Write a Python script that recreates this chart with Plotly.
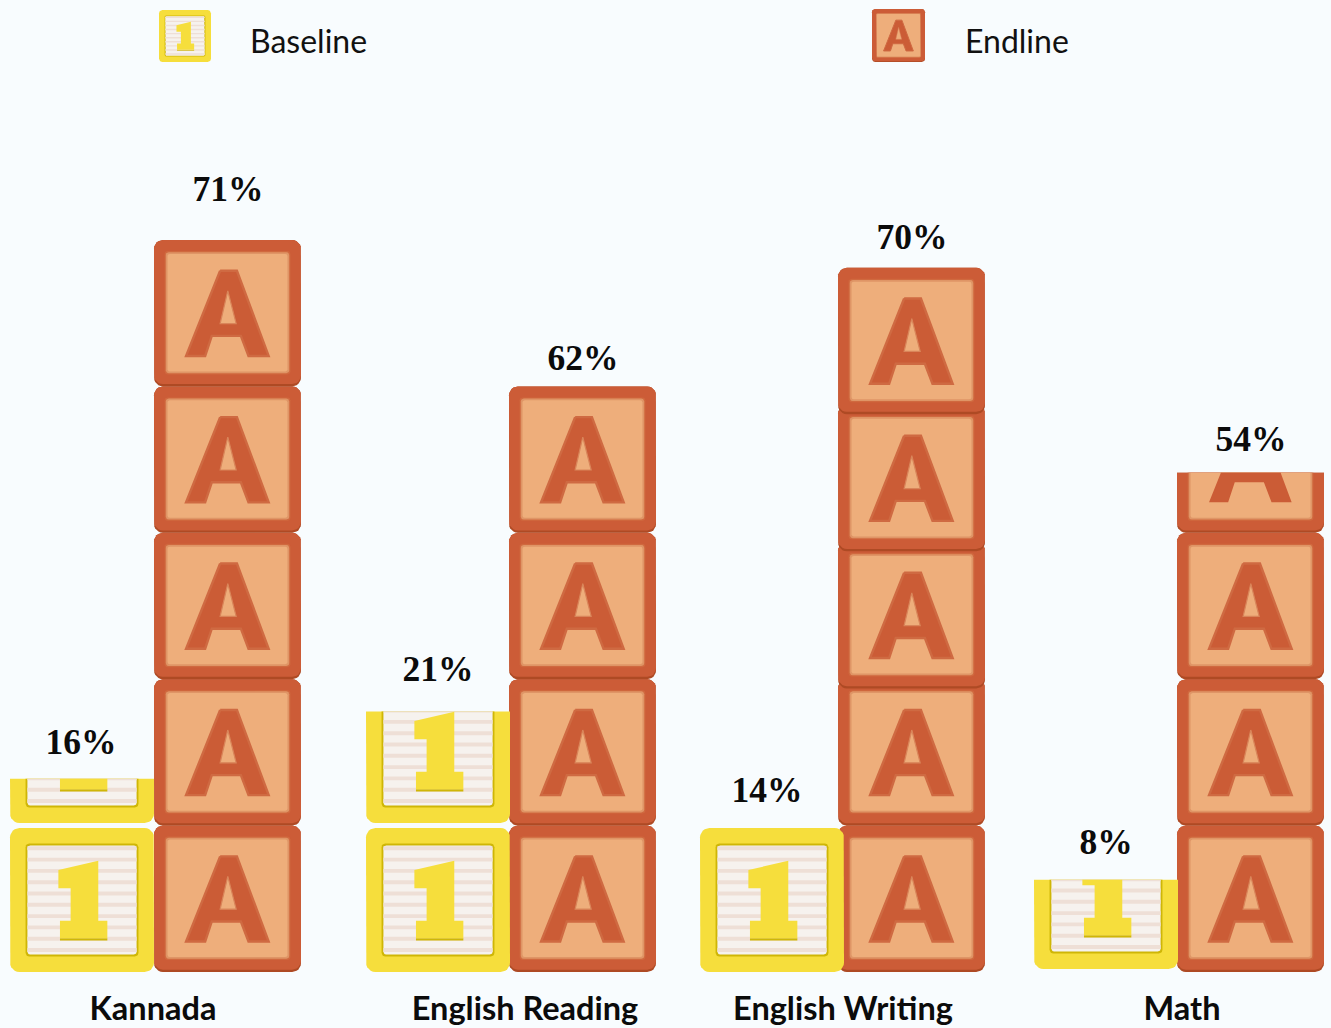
import math
import plotly.graph_objects as go

# ---- data -------------------------------------------------------------
categories = ["Kannada", "English Reading", "English Writing", "Math"]
baseline_labels = ["16%", "21%", "14%", "8%"]
endline_labels = ["71%", "62%", "70%", "54%"]
# stack heights as drawn, measured in blocks
baseline_blocks = [1.32, 1.78, 0.985, 0.63]
endline_blocks = [5.0, 4.0, 4.81, 3.41]
# the 70% stack is squeezed to its height rather than cut off
endline_squeezed = [False, False, True, False]
series_names = ["Baseline", "Endline"]

# ---- layout geometry ----------------------------------------------------
UNIT = 146.4            # x-units per block height
AXIS_Y = 972
BG = "#f8fcfe"
base_x = [10, 366, 700, 1034]
end_x = [154, 509, 838, 1177]
base_w, end_w = 144, 147
base_h = 144 / UNIT
base_pitch = 149 / UNIT
base_lift = [0, 0, 0, 3 / UNIT]
tick_x = [153, 525, 843, 1182]
base_lab_x = [81, 438, 767, 1106]
end_lab_x = [228, 583, 912, 1251]
base_lab_up = [33.5, 39.5, 34.5, 34.5]
end_lab_up = [47.5, 25.5, 27.5, 30.5]

YEL, YEL_D = "#f6de3c", "#cfb606"
PAPER, STRIPE = "#f6f2ee", "#eedfd6"
ORG, ORG_D, ORG_B1, ORG_B2 = "#cc5c37", "#ae4a24", "#d0693f", "#df9566"
PANEL = "#eeae7b"
LETTER = "#cb5c36"

ONE = [(.336, .708), (.613, .773), (.613, .356), (.676, .356), (.676, .234),
       (.347, .234), (.347, .356), (.421, .356), (.421, .581), (.336, .581)]
ONE_SHADOW = [(.347, .234), (.676, .234), (.676, .218), (.347, .218)]
A_OUT = [(.45, .79), (.564, .79), (.78, .208), (.643, .208), (.591, .345),
         (.393, .345), (.348, .208), (.218, .208)]
A_HOLE = [(.502, .653), (.45, .429), (.559, .429)]


def rrect(x0, y0, x1, y1, r):
    pts = []
    for cx, cy, a0 in [(x1 - r, y0 + r, -90), (x1 - r, y1 - r, 0),
                       (x0 + r, y1 - r, 90), (x0 + r, y0 + r, 180)]:
        for k in range(7):
            a = math.radians(a0 + 15 * k)
            pts.append((cx + r * math.cos(a), cy + r * math.sin(a)))
    return pts


def clip(pts, top):
    out = []
    for i, (x1, y1) in enumerate(pts):
        x0, y0 = pts[i - 1]
        if (y0 <= top) != (y1 <= top):
            t = (top - y0) / (y1 - y0)
            out.append((x0 + t * (x1 - x0), top))
        if y1 <= top:
            out.append((x1, y1))
    return out


fig = go.Figure()


def poly(pts, color, top=None, stroke=None, sw=0):
    """pts are already in data units."""
    cut = top is not None and max(p[1] for p in pts) > top
    if cut:
        pts = clip(pts, top)
    if not pts:
        return
    xs = [p[0] for p in pts] + [pts[0][0]]
    ys = [p[1] for p in pts] + [pts[0][1]]
    line = dict(color=stroke or color, width=sw if (stroke and not cut) else 0)
    fig.add_trace(go.Scatter(x=xs, y=ys, mode="lines", fill="toself", fillcolor=color,
                             line=line, hoverinfo="skip", showlegend=False))


def block(kind, x0, yb, w, h, top=None, sw=2.4):
    """Draw one wooden block; local coordinates are fractions of the block."""
    def T(pts):
        return [(x0 + fx * w, yb + fy * h) for fx, fy in pts]

    def rr(i0, j0, i1, j1, r_frac):
        return T(rrect(i0, j0, i1, j1, r_frac))

    if kind == "one":
        poly(rr(0, 0, 1, 1, .065), YEL, top)
        poly(rr(.108, .108, .892, .892, .025), YEL_D, top)
        poly(rr(.121, .121, .879, .879, .02), PAPER, top)
        k = 0
        while k < 10:
            c = (972 - 848.3 - 11.3 * k) / 144
            poly(T([(.121, c - .0135), (.879, c - .0135), (.879, c + .0135), (.121, c + .0135)]), STRIPE, top)
            k += 1
        poly(T(ONE_SHADOW), YEL_D, top)
        poly(T(ONE), YEL, top)
    else:
        poly(rr(0, 0, 1, 1, .06), ORG_D, top)
        poly(rr(0, .016, 1, 1, .06), ORG, top)
        poly(rr(.072, .082, .928, .925, .02), ORG_B1, top)
        poly(rr(.08, .09, .92, .917, .02), ORG_B2, top)
        poly(rr(.092, .102, .908, .905, .015), PANEL, top)
        poly(T(A_OUT), LETTER, top, stroke="#cf6a42", sw=sw)
        poly(T(A_HOLE), PANEL, top, stroke="#d9855a", sw=sw * .5)


# ---- stacks -------------------------------------------------------------
for i in range(len(categories)):
    # endline
    h = endline_blocks[i]
    n = math.ceil(h)
    for k in range(n):
        if endline_squeezed[i]:
            pitch = (h - 2) / (n - 2)
            yb = 0 if k == 0 else 1 + (k - 1) * pitch
            block("a", end_x[i], yb, end_w, 1, None)
        else:
            block("a", end_x[i], k, end_w, 1, h)
    # baseline
    h = baseline_blocks[i]
    for k in range(math.ceil(h)):
        block("one", base_x[i], base_lift[i] + k * base_pitch, base_w, base_h, h)

# ---- percent labels ------------------------------------------------------
PCT_FONT = dict(family="Liberation Serif", size=35.5, color="#0b0b0b")
fig.add_trace(go.Scatter(
    x=base_lab_x,
    y=[v + u / UNIT for v, u in zip(baseline_blocks, base_lab_up)],
    text=[f"<b>{t}</b>" for t in baseline_labels], mode="text", textposition="middle center",
    textfont=PCT_FONT, hoverinfo="skip", showlegend=False))
fig.add_trace(go.Scatter(
    x=end_lab_x,
    y=[v + u / UNIT for v, u in zip(endline_blocks, end_lab_up)],
    text=[f"<b>{t}</b>" for t in endline_labels], mode="text", textposition="middle center",
    textfont=PCT_FONT, hoverinfo="skip", showlegend=False))

# ---- legend -------------------------------------------------------------
block("one", 159, (AXIS_Y - 62) / UNIT, 52, 52 / UNIT)
block("a", 872, (AXIS_Y - 62) / UNIT, 53, 53 / UNIT, sw=1.0)
for name, x in zip(series_names, [248, 963]):
    fig.add_annotation(x=x, y=(AXIS_Y - 40) / UNIT, xref="x", yref="y", text=name,
                       showarrow=False, xanchor="left", yanchor="middle",
                       font=dict(family="Lato", size=32, color="#111111"))

fig.update_layout(
    width=1331, height=1028,
    margin=dict(l=0, r=0, t=0, b=1028 - AXIS_Y),
    paper_bgcolor=BG, plot_bgcolor=BG,
    showlegend=False,
    xaxis=dict(range=[0, 1331], tickvals=tick_x, ticktext=[f"<b>{c}</b>" for c in categories],
               tickfont=dict(family="Lato", size=32.5, color="#0b0b0b"),
               ticks="", ticklabelstandoff=14, showgrid=False, zeroline=False, showline=False,
               fixedrange=True),
    yaxis=dict(range=[0, AXIS_Y / UNIT], visible=False, fixedrange=True),
)
fig.write_html("out.html", config=dict(displayModeBar=False),
               post_script="document.body.style.margin='0';document.body.style.background='%s';" % BG)
